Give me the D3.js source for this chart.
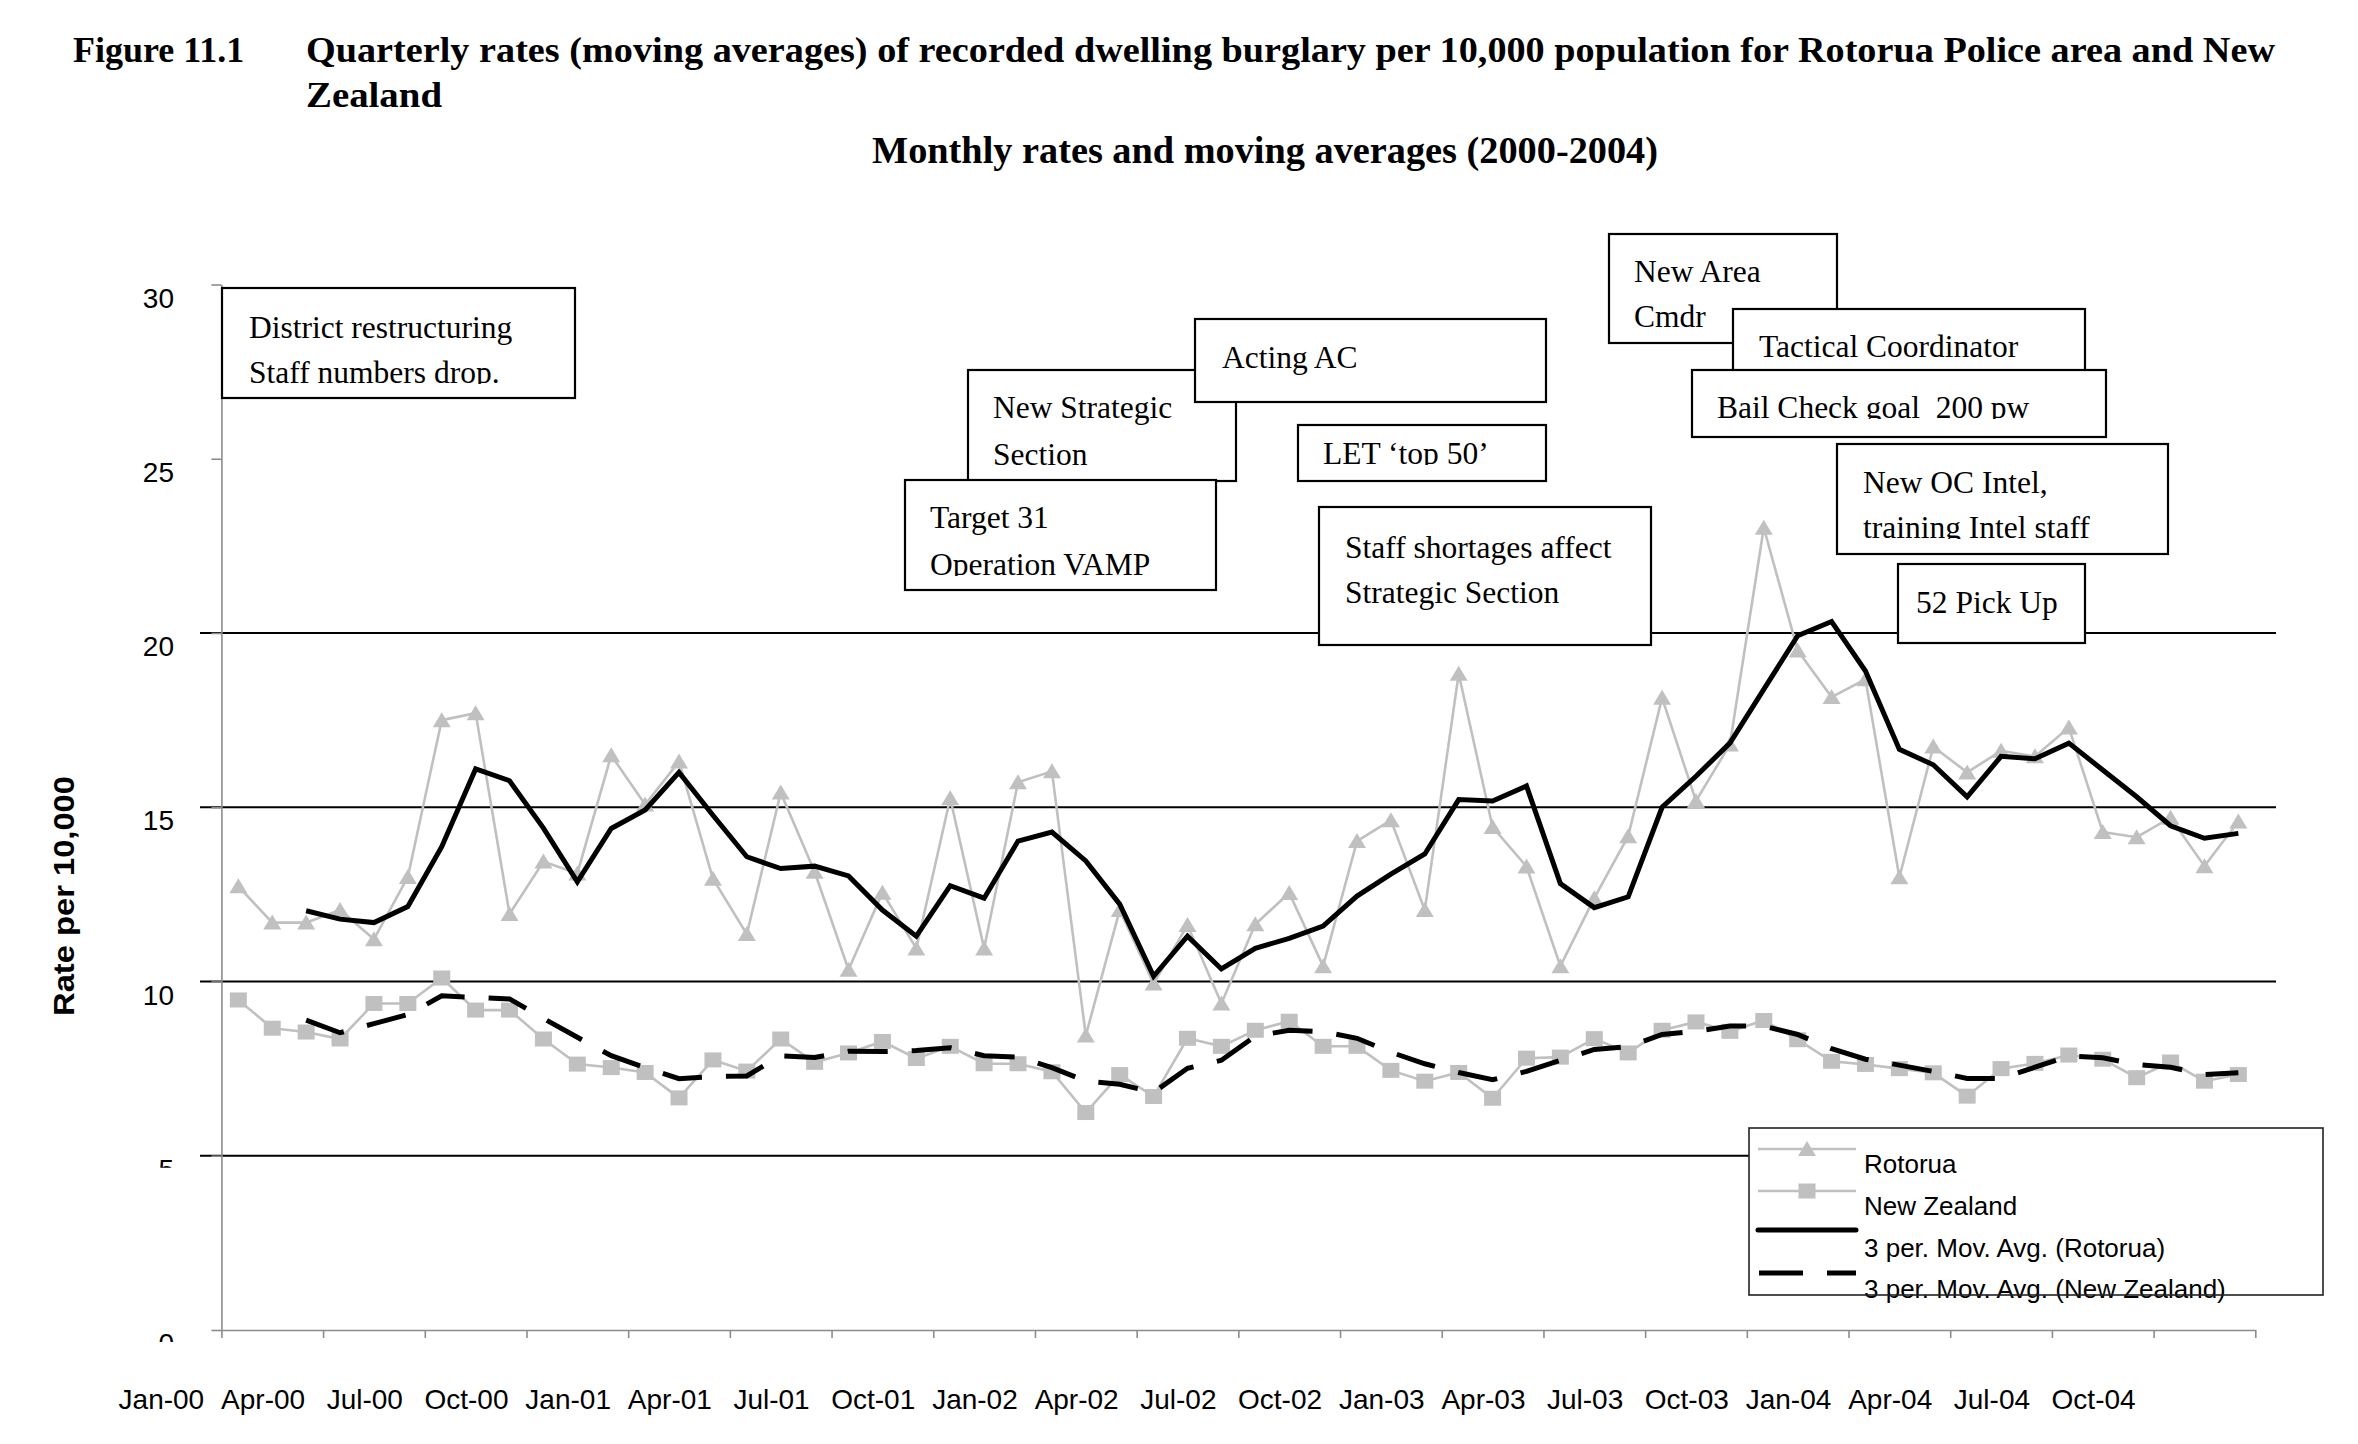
<!DOCTYPE html>
<html><head><meta charset="utf-8">
<script src="https://cdn.jsdelivr.net/npm/d3@7"></script>
<style>body{margin:0;background:#fff}svg{display:block;background:#fff}</style>
</head><body>
<svg id="chart" width="2358" height="1444"></svg>
<script>
// ---------------- DATA ----------------
const monthNames = ["Jan","Feb","Mar","Apr","May","Jun","Jul","Aug","Sep","Oct","Nov","Dec"];
const years = ["00","01","02","03","04"];
const months = [];
years.forEach(yy => monthNames.forEach(m => months.push(m + "-" + yy)));

const tickLabels = ["Jan-00","Apr-00","Jul-00","Oct-00","Jan-01","Apr-01","Jul-01","Oct-01",
  "Jan-02","Apr-02","Jul-02","Oct-02","Jan-03","Apr-03","Jul-03","Oct-03","Jan-04","Apr-04","Jul-04","Oct-04"];

const rotorua = [12.73, 11.69, 11.69, 12.05, 11.21, 13.0, 17.5, 17.7, 11.94, 13.44,
  13.1, 16.49, 15.08, 16.31, 12.95, 11.36, 15.42, 13.15, 10.34, 12.55,
  10.95, 15.26, 10.95, 15.72, 16.03, 8.45, 12.05, 9.94, 11.62, 9.37,
  11.64, 12.54, 10.44, 14.03, 14.63, 12.05, 18.83, 14.43, 13.3, 10.44,
  12.39, 14.17, 18.14, 15.18, 16.8, 23.02, 19.5, 18.16, 18.67, 12.99,
  16.74, 16.0, 16.62, 16.46, 17.29, 14.29, 14.14, 14.7, 13.31, 14.59];

const newZealand = [9.47, 8.66, 8.55, 8.35, 9.37, 9.37, 10.1, 9.18, 9.18, 8.35,
  7.63, 7.53, 7.39, 6.66, 7.75, 7.43, 8.35, 7.68, 7.95, 8.28,
  7.79, 8.14, 7.64, 7.64, 7.41, 6.24, 7.33, 6.7, 8.37, 8.14,
  8.6, 8.86, 8.14, 8.14, 7.45, 7.14, 7.39, 6.65, 7.8, 7.83,
  8.36, 7.95, 8.6, 8.84, 8.57, 8.88, 8.33, 7.71, 7.62, 7.5,
  7.38, 6.71, 7.5, 7.65, 7.89, 7.77, 7.24, 7.69, 7.14, 7.33];

const movAvgRotorua = [null, null, 12.03, 11.79, 11.69, 12.15, 13.87, 16.1, 15.76, 14.4,
  12.86, 14.39, 14.92, 16.0, 14.77, 13.58, 13.24, 13.31, 13.03, 12.05,
  11.3, 12.75, 12.39, 14.03, 14.29, 13.46, 12.22, 10.15, 11.3, 10.36,
  10.95, 11.24, 11.59, 12.45, 13.08, 13.66, 15.22, 15.18, 15.61, 12.81,
  12.12, 12.43, 15.0, 15.89, 16.84, 18.38, 19.92, 20.33, 18.91, 16.66,
  16.22, 15.3, 16.46, 16.39, 16.84, 16.07, 15.3, 14.47, 14.11, 14.25];

const movAvgNZ = [null, null, 8.89, 8.53, 8.79, 9.05, 9.59, 9.54, 9.5, 8.94,
  8.4, 7.87, 7.53, 7.21, 7.27, 7.29, 7.87, 7.82, 8.0, 7.99,
  8.02, 8.1, 7.87, 7.83, 7.53, 7.14, 7.05, 6.82, 7.51, 7.74,
  8.43, 8.6, 8.56, 8.37, 7.97, 7.64, 7.39, 7.18, 7.42, 7.74,
  8.05, 8.13, 8.48, 8.57, 8.72, 8.72, 8.48, 8.07, 7.77, 7.6,
  7.42, 7.22, 7.22, 7.54, 7.86, 7.81, 7.62, 7.54, 7.33, 7.38];

const yTickValues = [0, 5, 10, 15, 20, 25, 30];
const gridValues = [5, 10, 15, 20];
const clippedYLabels = [0, 5];

const annotationTexts = [
  ["District restructuring", "Staff numbers drop."],
  ["New Strategic", "Section"],
  ["Acting AC"],
  ["LET \u2018top 50\u2019"],
  ["Target 31", "Operation VAMP"],
  ["Staff shortages affect", "Strategic Section"],
  ["New Area", "Cmdr"],
  ["Tactical Coordinator"],
  ["Bail Check goal  200 pw"],
  ["New OC Intel,", "training Intel staff"],
  ["52 Pick Up"]
];
const legendLabels = ["Rotorua", "New Zealand", "3 per. Mov. Avg. (Rotorua)", "3 per. Mov. Avg. (New Zealand)"];

// ---------------- LAYOUT ----------------
const annotationLayout = [
  {x0:222, y0:288, x1:575, y1:398, tx:249, base:[338,383], clip:384},
  {x0:968, y0:370, x1:1236, y1:481, tx:993, base:[418,465]},
  {x0:1195, y0:319, x1:1546, y1:402, tx:1222, base:[368]},
  {x0:1298, y0:425, x1:1546, y1:481, tx:1323, base:[464], clip:465},
  {x0:905, y0:480, x1:1216, y1:590, tx:930, base:[528,575], clip:576},
  {x0:1319, y0:507, x1:1651, y1:645, tx:1345, base:[558,603]},
  {x0:1609, y0:234, x1:1837, y1:343, tx:1634, base:[282,327]},
  {x0:1733, y0:309, x1:2085, y1:400, tx:1759, base:[357]},
  {x0:1692, y0:370, x1:2106, y1:437, tx:1717, base:[418], clip:419},
  {x0:1837, y0:444, x1:2168, y1:554, tx:1863, base:[493,538], clip:539},
  {x0:1898, y0:564, x1:2085, y1:643, tx:1916, base:[613]}
];

const GRAY = "#c0c0c0";
const svg = d3.select("#chart");
const defs = svg.append("defs");

const x = d3.scaleLinear().domain([0, months.length]).range([221.4, 2255.3]);
const y = d3.scaleLinear().domain([0, 30]).range([1330, 284.5]);
const px = i => x(i + 0.5);

// Titles
const serif = "'Liberation Serif','Times New Roman',serif";
const sans = "'Liberation Sans',Arial,sans-serif";
svg.append("text").attr("x", 73).attr("y", 62).attr("font-family", serif).attr("font-weight", "bold")
  .attr("font-size", 36).text("Figure 11.1");
svg.append("text").attr("x", 306).attr("y", 62).attr("font-family", serif).attr("font-weight", "bold")
  .attr("font-size", 36).attr("textLength", 1969).attr("lengthAdjust", "spacingAndGlyphs")
  .text("Quarterly rates (moving averages) of recorded dwelling burglary per 10,000 population for Rotorua Police area and New");
svg.append("text").attr("x", 306).attr("y", 107).attr("font-family", serif).attr("font-weight", "bold")
  .attr("font-size", 36).attr("textLength", 136).attr("lengthAdjust", "spacingAndGlyphs").text("Zealand");
svg.append("text").attr("x", 1265).attr("y", 163).attr("text-anchor", "middle").attr("font-family", serif)
  .attr("font-weight", "bold").attr("font-size", 37).attr("textLength", 786).attr("lengthAdjust", "spacingAndGlyphs")
  .text("Monthly rates and moving averages (2000-2004)");

// Gridlines
svg.append("g").selectAll("line").data(gridValues).join("line")
  .attr("x1", 200).attr("x2", 2276).attr("y1", d => y(d)).attr("y2", d => y(d))
  .attr("stroke", "#000").attr("stroke-width", 2);

// Axes
const yAxis = svg.append("g").attr("transform", `translate(${x(0)},0)`)
  .call(d3.axisLeft(y).tickValues(yTickValues).tickSize(10).tickSizeOuter(0).tickFormat(""));
const xAxis = svg.append("g").attr("transform", `translate(0,${y(0)})`)
  .call(d3.axisBottom(x).tickValues(d3.range(0, months.length + 1, 3)).tickSize(8).tickSizeOuter(0).tickFormat(""));
[yAxis, xAxis].forEach(g => {
  g.select(".domain").attr("stroke", "#8c8c8c").attr("stroke-width", 1.6);
  g.selectAll(".tick line").attr("stroke", "#8c8c8c").attr("stroke-width", 1.6);
});

// Y tick labels
yTickValues.forEach(v => {
  const t = svg.append("text").attr("x", 174).attr("y", y(v) + 23).attr("text-anchor", "end")
    .attr("font-family", sans).attr("font-size", 28).attr("fill", "#000").text(v);
  if (clippedYLabels.includes(v)) {
    const id = "yclip" + v;
    defs.append("clipPath").attr("id", id).append("rect")
      .attr("x", 120).attr("y", y(v)).attr("width", 70).attr("height", 12);
    t.attr("clip-path", `url(#${id})`);
  }
});

// X tick labels
tickLabels.forEach((lab, k) => {
  svg.append("text").attr("x", x(3 * k) - 60).attr("y", 1409).attr("text-anchor", "middle")
    .attr("font-family", sans).attr("font-size", 28).attr("fill", "#000").text(lab);
});

// Axis title
svg.append("text").attr("transform", "translate(74,896) rotate(-90)").attr("text-anchor", "middle")
  .attr("font-family", sans).attr("font-weight", "bold").attr("font-size", 29)
  .attr("textLength", 240).attr("lengthAdjust", "spacingAndGlyphs").text("Rate per 10,000");

// Series
const line = d3.line().defined(d => d != null).x((d, i) => px(i)).y(d => y(d));
const gSeries = svg.append("g");
gSeries.append("path").datum(rotorua).attr("d", line).attr("fill", "none").attr("stroke", GRAY).attr("stroke-width", 2.6);
gSeries.append("path").datum(newZealand).attr("d", line).attr("fill", "none").attr("stroke", GRAY).attr("stroke-width", 2.6);
const triPath = "M0,-8 L9,7 L-9,7 Z";
gSeries.append("g").selectAll("path").data(rotorua).join("path")
  .attr("d", triPath).attr("transform", (d, i) => `translate(${px(i)},${y(d)})`).attr("fill", GRAY);
gSeries.append("g").selectAll("rect").data(newZealand).join("rect")
  .attr("x", (d, i) => px(i) - 8.5).attr("y", d => y(d) - 7.5).attr("width", 17).attr("height", 15).attr("fill", GRAY);

gSeries.append("path").datum(movAvgRotorua).attr("d", line).attr("fill", "none").attr("stroke", "#000")
  .attr("stroke-width", 5).attr("stroke-linejoin", "miter");
gSeries.append("path").datum(movAvgNZ).attr("d", line).attr("fill", "none").attr("stroke", "#000")
  .attr("stroke-width", 5).attr("stroke-dasharray", "40,24");

// Annotation boxes
annotationLayout.forEach((b, k) => {
  const g = svg.append("g");
  g.append("rect").attr("x", b.x0).attr("y", b.y0).attr("width", b.x1 - b.x0).attr("height", b.y1 - b.y0)
    .attr("fill", "#fff").attr("stroke", "#000").attr("stroke-width", 2.2);
  const tg = g.append("g");
  if (b.clip) {
    const id = "aclip" + k;
    defs.append("clipPath").attr("id", id).append("rect")
      .attr("x", b.x0).attr("y", b.y0).attr("width", b.x1 - b.x0).attr("height", b.clip - b.y0);
    tg.attr("clip-path", `url(#${id})`);
  }
  annotationTexts[k].forEach((txt, j) => {
    tg.append("text").attr("x", b.tx).attr("y", b.base[j]).attr("font-family", serif)
      .attr("font-size", 31.5).attr("fill", "#000").style("white-space", "pre").text(txt);
  });
});

// Legend
const lg = svg.append("g");
lg.append("rect").attr("x", 1749).attr("y", 1128).attr("width", 574).attr("height", 167).attr("fill", "#fff");
const symY = [1149, 1191, 1230, 1273];
const txtY = [1173, 1215, 1257, 1298];
lg.append("line").attr("x1", 1758).attr("x2", 1856).attr("y1", symY[0]).attr("y2", symY[0]).attr("stroke", GRAY).attr("stroke-width", 2.6);
lg.append("path").attr("d", triPath).attr("transform", `translate(1807,${symY[0]})`).attr("fill", GRAY);
lg.append("line").attr("x1", 1758).attr("x2", 1856).attr("y1", symY[1]).attr("y2", symY[1]).attr("stroke", GRAY).attr("stroke-width", 2.6);
lg.append("rect").attr("x", 1807 - 8.5).attr("y", symY[1] - 7.5).attr("width", 17).attr("height", 15).attr("fill", GRAY);
lg.append("line").attr("x1", 1758).attr("x2", 1856).attr("y1", symY[2]).attr("y2", symY[2]).attr("stroke", "#000").attr("stroke-width", 5).attr("stroke-linecap", "round");
lg.append("line").attr("x1", 1759).attr("x2", 1856).attr("y1", symY[3]).attr("y2", symY[3]).attr("stroke", "#000").attr("stroke-width", 5).attr("stroke-dasharray", "44,24");
legendLabels.forEach((lab, k) => {
  lg.append("text").attr("x", 1864).attr("y", txtY[k]).attr("font-family", sans).attr("font-size", 26)
    .attr("fill", "#000").text(lab);
});
lg.append("rect").attr("x", 1749).attr("y", 1128).attr("width", 574).attr("height", 167)
  .attr("fill", "none").attr("stroke", "#222").attr("stroke-width", 1.6);
</script>
</body></html>
